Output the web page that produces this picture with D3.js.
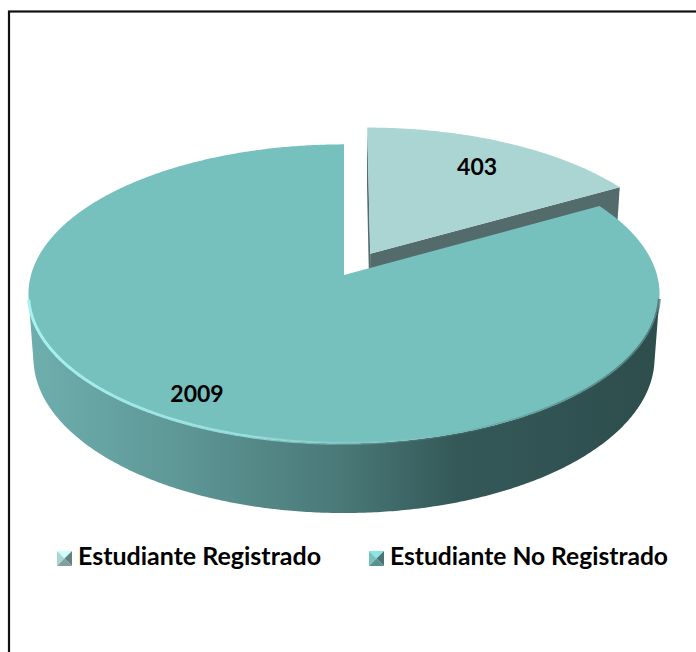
<!DOCTYPE html>
<html>
<head>
<meta charset="utf-8">
<script src="https://cdn.jsdelivr.net/npm/d3@7"></script>
<style>
  html, body { margin: 0; padding: 0; background: #fff; overflow: hidden; }
  text { font-family: Lato, "Open Sans", sans-serif; font-weight: 700; }
</style>
</head>
<body>
<svg id="chart" width="696" height="652"></svg>
<script>
const categories = ["Estudiante Registrado", "Estudiante No Registrado"];
const values = [403, 2009];

const topColors = ["#AAD5D3", "#76C0BE"];
const cutColors = ["#536B6B", "#3C6363"];

// 3D view set-up (radius units)
const cx = 344, cy = 275, R = 313;
const sinA = 0.47, cosA = Math.sqrt(1 - sinA * sinA);
const F = 7;        // camera distance
const H = 0.234;    // pie thickness
const explode = [0.17, 0];
const labelR = [0.765, 0.85];
const cam = [0, F * sinA, F * cosA];

function proj(X, Y, Z) {
  const sy = Y * cosA - Z * sinA;
  const depth = Z * cosA + Y * sinA;
  const p = F / (F - depth);
  return [cx + R * X * p, cy - R * sy * p];
}

const svg = d3.select("#chart");
const defs = svg.append("defs");

const sideGrad = defs.append("linearGradient")
  .attr("id", "sideGrad")
  .attr("gradientUnits", "userSpaceOnUse")
  .attr("x1", 28).attr("x2", 660).attr("y1", 0).attr("y2", 0);
[[0, "#6EAFAD"], [0.25, "#5D9695"], [0.5, "#497877"], [0.68, "#345858"], [1, "#2E4D4D"]]
  .forEach(([o, c]) => sideGrad.append("stop").attr("offset", o).attr("stop-color", c));

const rimGrad = defs.append("linearGradient")
  .attr("id", "rimGrad")
  .attr("gradientUnits", "userSpaceOnUse")
  .attr("x1", 28).attr("x2", 660).attr("y1", 0).attr("y2", 0);
[[0, "#A8F2F0", 1], [0.35, "#9EE6E4", 0.8], [0.6, "#8FD6D4", 0.15], [0.75, "#3E6A6A", 0.25], [1, "#2E5050", 0.6]]
  .forEach(([o, c, a]) => rimGrad.append("stop").attr("offset", o).attr("stop-color", c).attr("stop-opacity", a));

// chart border
svg.append("rect")
  .attr("x", 9).attr("y", 11.5)
  .attr("width", 740).attr("height", 700)
  .attr("fill", "none")
  .attr("stroke", "#111")
  .attr("stroke-width", 2.2);

const pie = d3.pie().sort(null).value(d => d)(values);
const line = d3.line();
const step = Math.PI / 360;

function arcPoints(ox, oz, a0, a1, Y) {
  const pts = [];
  const n = Math.max(2, Math.ceil((a1 - a0) / step));
  for (let i = 0; i <= n; i++) {
    const t = a0 + (a1 - a0) * i / n;
    pts.push(proj(ox + Math.sin(t), Y, oz - Math.cos(t)));
  }
  return pts;
}

function faces(d, i) {
  const mid = (d.startAngle + d.endAngle) / 2;
  const ox = explode[i] * Math.sin(mid), oz = -explode[i] * Math.cos(mid);
  const out = { ox, oz, mid, walls: [], cuts: [] };

  // outer wall: keep parts that face the camera
  const n = Math.ceil((d.endAngle - d.startAngle) / step);
  let run = null;
  for (let k = 0; k < n; k++) {
    const t = d.startAngle + (d.endAngle - d.startAngle) * (k + 0.5) / n;
    const nx = Math.sin(t), nz = -Math.cos(t);
    const px = ox + nx, pz = oz + nz;
    const vis = nx * (cam[0] - px) + nz * (cam[2] - pz) > 0;
    const t0 = d.startAngle + (d.endAngle - d.startAngle) * k / n;
    const t1 = d.startAngle + (d.endAngle - d.startAngle) * (k + 1) / n;
    if (vis) { if (run) run[1] = t1; else run = [t0, t1]; }
    else if (run) { out.walls.push(run); run = null; }
  }
  if (run) out.walls.push(run);

  // radial cut faces
  [[d.startAngle, -1], [d.endAngle, 1]].forEach(([t, sgn]) => {
    const nx = sgn * Math.cos(t), nz = sgn * Math.sin(t);
    if (nx * (cam[0] - ox) + nz * (cam[2] - oz) > 0) out.cuts.push(t);
  });
  return out;
}

const slices = pie.map((d, i) => ({ d, i, f: faces(d, i) }))
  .sort((a, b) => (a.f.oz - Math.cos(a.f.mid)) - (b.f.oz - Math.cos(b.f.mid)));

const g = svg.append("g");

slices.forEach(({ d, i, f }) => {
  const { ox, oz } = f;
  // cut faces
  f.cuts.forEach(t => {
    const pts = [
      proj(ox, 0, oz),
      proj(ox + Math.sin(t), 0, oz - Math.cos(t)),
      proj(ox + Math.sin(t), -H, oz - Math.cos(t)),
      proj(ox, -H, oz)
    ];
    g.append("path").attr("d", line(pts) + "Z").attr("fill", cutColors[i]);
  });
  // outer wall
  f.walls.forEach(([t0, t1]) => {
    const pts = arcPoints(ox, oz, t0, t1, 0).concat(arcPoints(ox, oz, t0, t1, -H).reverse());
    g.append("path").attr("d", line(pts) + "Z")
      .attr("fill", i === 1 ? "url(#sideGrad)" : cutColors[i]);
  });
  // top face
  const top = [proj(ox, 0, oz)].concat(arcPoints(ox, oz, d.startAngle, d.endAngle, 0));
  g.append("path").attr("d", line(top) + "Z").attr("fill", topColors[i]);
  // bevel highlight on the front rim
  f.walls.forEach(([t0, t1]) => {
    if (i !== 1) return;
    g.append("path")
      .attr("d", line(arcPoints(ox, oz, t0, t1, 0)))
      .attr("fill", "none")
      .attr("stroke", "url(#rimGrad)")
      .attr("stroke-width", 3);
  });
});

// value labels
pie.forEach((d, i) => {
  const mid = (d.startAngle + d.endAngle) / 2;
  const r = explode[i] + labelR[i];
  const [x, y] = proj(r * Math.sin(mid), 0, -r * Math.cos(mid));
  svg.append("text")
    .attr("x", x).attr("y", y)
    .attr("dy", "0.35em")
    .attr("text-anchor", "middle")
    .attr("font-size", 23)
    .attr("fill", "#000")
    .text(values[i]);
});

// legend
const legendX = [78, 390];
const legendLen = [243, 278];
const legendY = 565;
categories.forEach((c, i) => {
  const mx = legendX[i] - 21, my = 551, s = 15;
  const base = d3.color(topColors[i]);
  const lg = svg.append("g");
  const ctr = [mx + s / 2, my + s / 2];
  const tris = [
    [[mx, my], [mx + s, my], ctr, base.brighter(0.5)],
    [[mx, my], ctr, [mx, my + s], base],
    [[mx + s, my], [mx + s, my + s], ctr, base.darker(1.4)],
    [[mx, my + s], ctr, [mx + s, my + s], base.darker(0.8)]
  ];
  tris.forEach(t => lg.append("path").attr("d", line(t.slice(0, 3)) + "Z").attr("fill", t[3]));
  svg.append("text")
    .attr("x", legendX[i]).attr("y", legendY)
    .attr("font-size", 24)
    .attr("textLength", legendLen[i])
    .attr("lengthAdjust", "spacingAndGlyphs")
    .attr("fill", "#000")
    .text(c);
});
</script>
</body>
</html>
